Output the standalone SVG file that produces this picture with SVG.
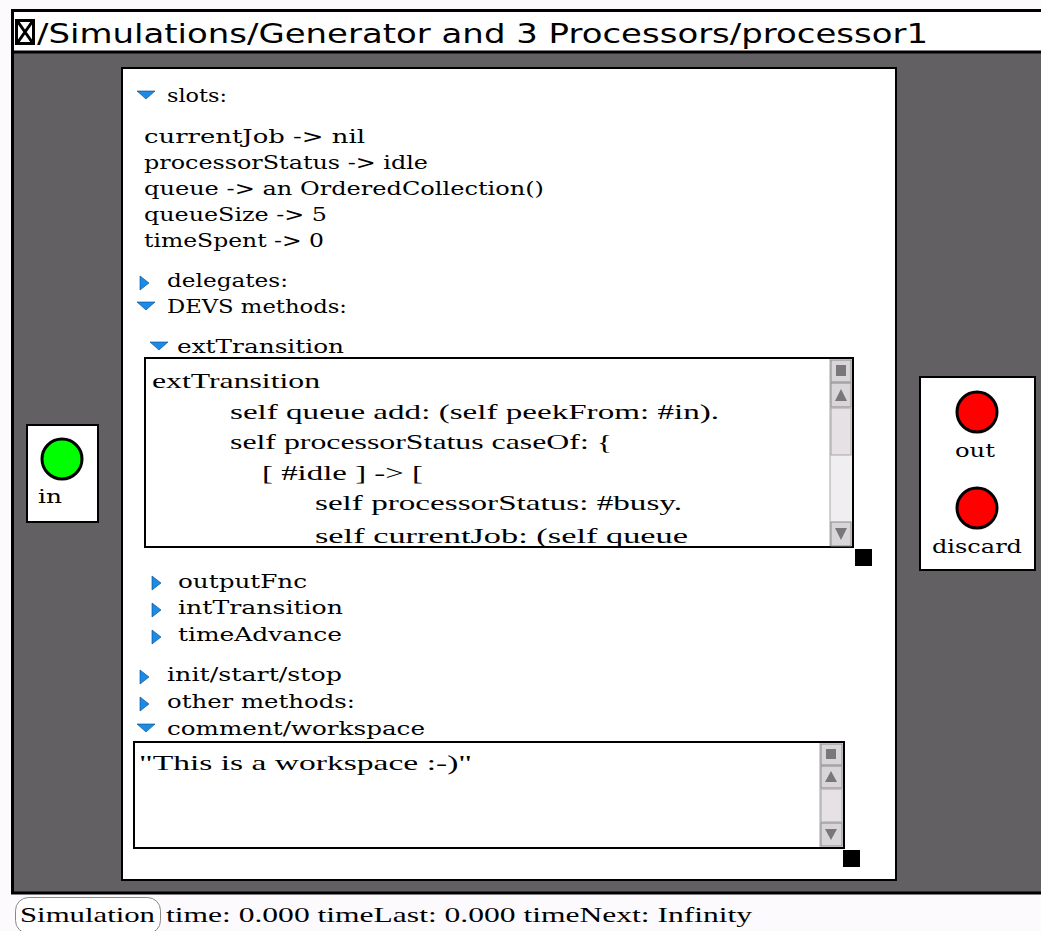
<svg xmlns="http://www.w3.org/2000/svg" width="1041" height="931" viewBox="0 0 1041 931">
  <style>
    .ui { font-family: "DejaVu Sans", "Liberation Sans", sans-serif; }
    .lbl { font-family: "DejaVu Serif", "Liberation Serif", serif; font-size: 19px; fill: #000; }
    .code { font-family: "Liberation Serif", "DejaVu Serif", serif; font-size: 21px; fill: #000; }
    .tri { fill: #1a8ce8; stroke: #0b3f7a; stroke-width: 0.6; }
    .box { fill: #fff; stroke: #000; stroke-width: 2; }
    .sbBtn { fill: #d9d6d9; stroke: #8c898c; stroke-width: 1; }
    .sbGlyph { fill: #7a777a; }
    .port { stroke: #000; stroke-width: 3; }
  </style>

  <!-- page background -->
  <rect x="0" y="0" width="1041" height="931" fill="#fdfafd"/>

  <!-- window frame -->
  <g id="window">
    <rect x="11" y="10" width="1040" height="884" fill="#626063"/>
    <rect x="14" y="12" width="1030" height="39" fill="#fff"/>
    <line x1="11" y1="10.5" x2="1041" y2="10.5" stroke="#000" stroke-width="3"/>
    <line x1="11" y1="52" x2="1041" y2="52" stroke="#000" stroke-width="3"/>
    <line x1="12.5" y1="10" x2="12.5" y2="894" stroke="#000" stroke-width="3"/>
    <line x1="11" y1="893" x2="1041" y2="893" stroke="#000" stroke-width="3"/>
    <!-- close box -->
    <rect x="16.5" y="20.5" width="17" height="23" fill="#fff" stroke="#000" stroke-width="3"/>
    <path d="M18 22 L32 42 M32 22 L18 42" stroke="#000" stroke-width="3"/>
    <text class="ui" x="37" y="43" font-size="27" textLength="891" lengthAdjust="spacingAndGlyphs">/Simulations/Generator and 3 Processors/processor1</text>
  </g>

  <!-- input port block -->
  <g id="inPort">
    <rect class="box" x="27" y="425" width="71" height="97"/>
    <circle class="port" cx="62" cy="459" r="20" fill="#00ff00"/>
    <text class="lbl" x="38" y="503" textLength="24" lengthAdjust="spacingAndGlyphs">in</text>
  </g>

  <!-- output port block -->
  <g id="outPorts">
    <rect class="box" x="920" y="377" width="115" height="193"/>
    <circle class="port" cx="977" cy="412" r="20" fill="#ff0000"/>
    <text class="lbl" x="955" y="457" textLength="40" lengthAdjust="spacingAndGlyphs">out</text>
    <circle class="port" cx="977" cy="508" r="20" fill="#ff0000"/>
    <text class="lbl" x="932" y="553" textLength="90" lengthAdjust="spacingAndGlyphs">discard</text>
  </g>

  <!-- model inspector panel -->
  <g id="panel">
    <rect class="box" x="122" y="68" width="774" height="812"/>

    <!-- slots -->
    <polygon class="tri" points="137,91 155,91 146,99"/>
    <text class="lbl" x="167" y="102" textLength="60" lengthAdjust="spacingAndGlyphs">slots:</text>
    <text class="lbl" x="144" y="143" textLength="221" lengthAdjust="spacingAndGlyphs">currentJob -&gt; nil</text>
    <text class="lbl" x="144" y="169" textLength="284" lengthAdjust="spacingAndGlyphs">processorStatus -&gt; idle</text>
    <text class="lbl" x="144" y="195" textLength="400" lengthAdjust="spacingAndGlyphs">queue -&gt; an OrderedCollection()</text>
    <text class="lbl" x="144" y="221" textLength="183" lengthAdjust="spacingAndGlyphs">queueSize -&gt; 5</text>
    <text class="lbl" x="144" y="247" textLength="180" lengthAdjust="spacingAndGlyphs">timeSpent -&gt; 0</text>

    <!-- delegates / DEVS methods -->
    <polygon class="tri" points="140,276 140,290 149,283"/>
    <text class="lbl" x="167" y="287" textLength="121" lengthAdjust="spacingAndGlyphs">delegates:</text>
    <polygon class="tri" points="137,302 155,302 146,310"/>
    <text class="lbl" x="167" y="313" textLength="180" lengthAdjust="spacingAndGlyphs">DEVS methods:</text>

    <!-- extTransition editor -->
    <polygon class="tri" points="150,342 168,342 159,350"/>
    <text class="lbl" x="177" y="353" textLength="167" lengthAdjust="spacingAndGlyphs">extTransition</text>
    <g id="extEditor">
      <rect x="145" y="358" width="708" height="189" fill="#fff" stroke="#000" stroke-width="2"/>
      <clipPath id="extClip"><rect x="146" y="359" width="684" height="187"/></clipPath>
      <g clip-path="url(#extClip)">
        <text class="code" x="152" y="388" textLength="168" lengthAdjust="spacingAndGlyphs">extTransition</text>
        <text class="code" x="230" y="419" textLength="489" lengthAdjust="spacingAndGlyphs">self queue add: (self peekFrom: #in).</text>
        <text class="code" x="230" y="449" textLength="382" lengthAdjust="spacingAndGlyphs">self processorStatus caseOf: {</text>
        <text class="code" x="262" y="480" textLength="161" lengthAdjust="spacingAndGlyphs">[ #idle ] -&gt; [</text>
        <text class="code" x="315" y="510" textLength="367" lengthAdjust="spacingAndGlyphs">self processorStatus: #busy.</text>
        <text class="code" x="315" y="543" textLength="373" lengthAdjust="spacingAndGlyphs">self currentJob: (self queue</text>
      </g>
      <!-- scrollbar -->
      <rect x="830" y="359" width="22" height="187" fill="#f0eef0"/>
      <line x1="830" y1="359" x2="830" y2="546" stroke="#a8a5a8" stroke-width="1"/>
      <rect class="sbBtn" x="831" y="360" width="20" height="22"/>
      <rect class="sbGlyph" x="836" y="365" width="10" height="11"/>
      <rect class="sbBtn" x="831" y="383" width="20" height="24"/>
      <polygon class="sbGlyph" points="835,401 847,401 841,389"/>
      <rect x="831" y="408" width="20" height="47" fill="#e5e1e5" stroke="#a8a5a8" stroke-width="1"/>
      <rect class="sbBtn" x="831" y="522" width="20" height="24"/>
      <polygon class="sbGlyph" points="835,528 847,528 841,540"/>
    </g>
    <rect x="855" y="549" width="17" height="17" fill="#000"/>

    <!-- other DEVS methods -->
    <polygon class="tri" points="152,576 152,590 161,583"/>
    <text class="lbl" x="178" y="588" textLength="129" lengthAdjust="spacingAndGlyphs">outputFnc</text>
    <polygon class="tri" points="152,603 152,617 161,610"/>
    <text class="lbl" x="178" y="614" textLength="165" lengthAdjust="spacingAndGlyphs">intTransition</text>
    <polygon class="tri" points="152,630 152,644 161,637"/>
    <text class="lbl" x="178" y="641" textLength="164" lengthAdjust="spacingAndGlyphs">timeAdvance</text>

    <polygon class="tri" points="140,670 140,684 149,677"/>
    <text class="lbl" x="167" y="681" textLength="175" lengthAdjust="spacingAndGlyphs">init/start/stop</text>
    <polygon class="tri" points="140,697 140,711 149,704"/>
    <text class="lbl" x="167" y="708" textLength="188" lengthAdjust="spacingAndGlyphs">other methods:</text>
    <polygon class="tri" points="137,724 155,724 146,732"/>
    <text class="lbl" x="167" y="735" textLength="258" lengthAdjust="spacingAndGlyphs">comment/workspace</text>

    <!-- workspace editor -->
    <g id="workspace">
      <rect x="134" y="742" width="710" height="106" fill="#fff" stroke="#000" stroke-width="2"/>
      <text class="code" x="139" y="770" textLength="333" lengthAdjust="spacingAndGlyphs">"This is a workspace :-)"</text>
      <rect x="820" y="743" width="23" height="104" fill="#f0eef0"/>
      <line x1="820" y1="743" x2="820" y2="847" stroke="#a8a5a8" stroke-width="1"/>
      <rect class="sbBtn" x="821" y="744" width="21" height="21"/>
      <rect class="sbGlyph" x="826" y="749" width="10" height="10"/>
      <rect class="sbBtn" x="821" y="766" width="21" height="22"/>
      <polygon class="sbGlyph" points="825,782 837,782 831,771"/>
      <rect x="821" y="789" width="21" height="33" fill="#e5e1e5" stroke="#a8a5a8" stroke-width="1"/>
      <rect class="sbBtn" x="821" y="823" width="21" height="23"/>
      <polygon class="sbGlyph" points="825,829 837,829 831,840"/>
    </g>
    <rect x="843" y="850" width="17" height="17" fill="#000"/>
  </g>

  <!-- no connectors in this view -->
  <g id="connectors"/>

  <!-- status line -->
  <g id="status">
    <rect x="15.5" y="897.5" width="145" height="36" rx="13" fill="#fff" stroke="#8a878a" stroke-width="1"/>
    <text class="code" x="20" y="922" textLength="135" lengthAdjust="spacingAndGlyphs">Simulation</text>
    <text class="code" x="166" y="922" textLength="586" lengthAdjust="spacingAndGlyphs">time: 0.000 timeLast: 0.000 timeNext: Infinity</text>
  </g>
</svg>
